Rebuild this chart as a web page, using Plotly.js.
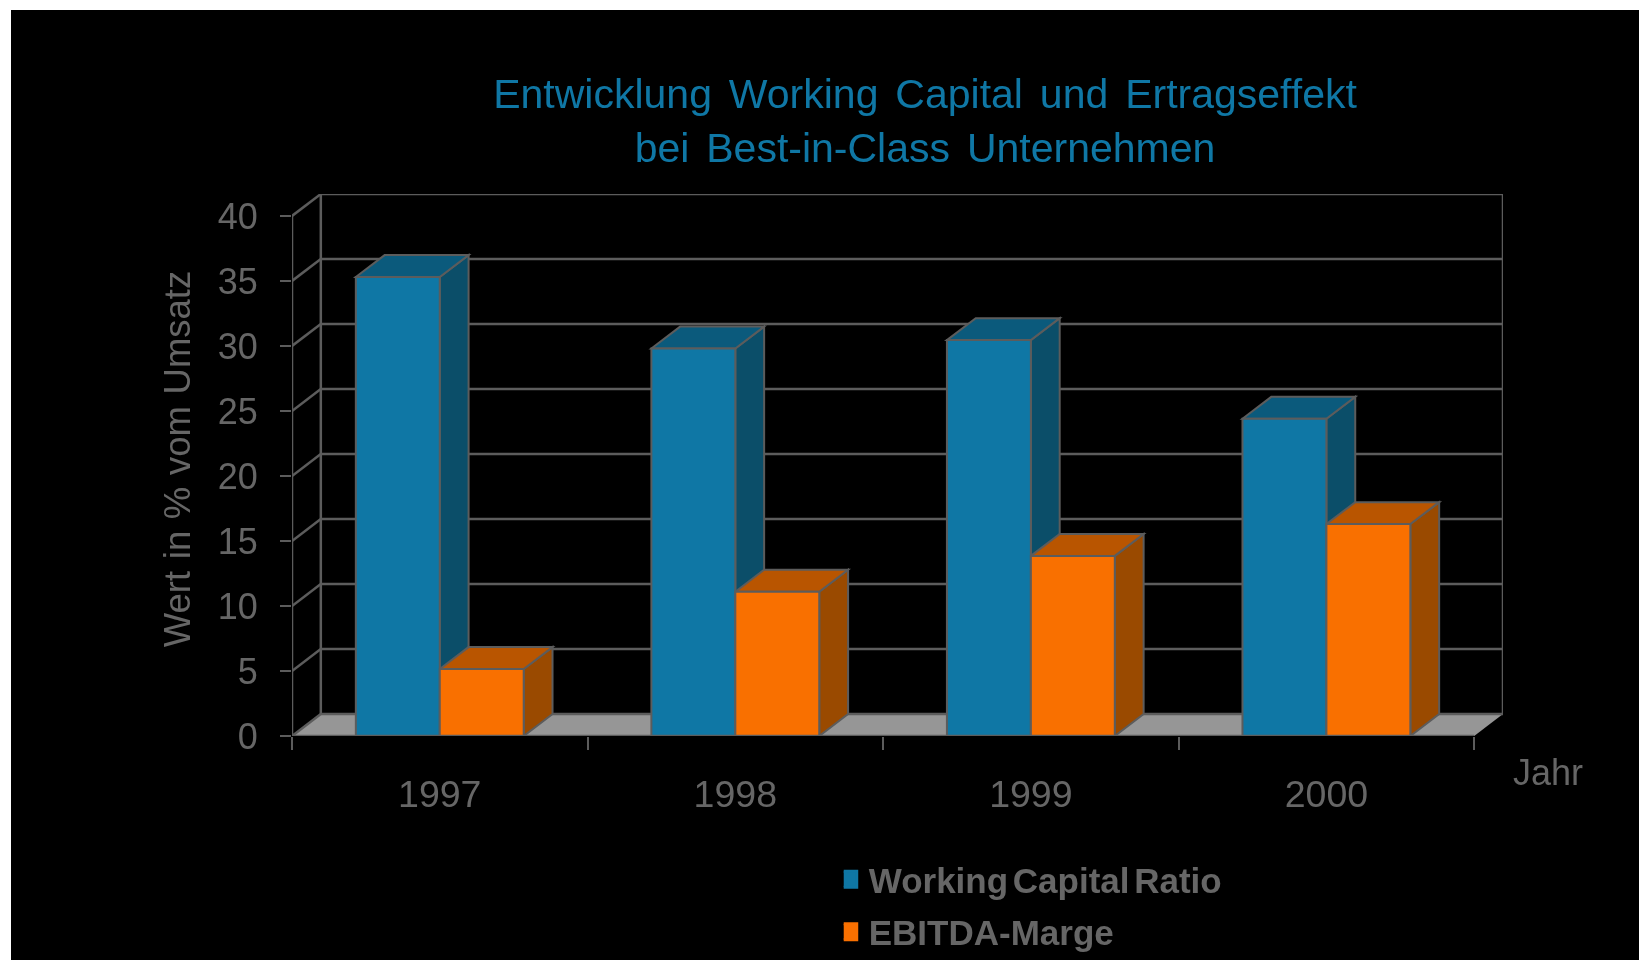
<!DOCTYPE html>
<html>
<head>
<meta charset="utf-8">
<script src="https://cdn.plot.ly/plotly-3.0.1.min.js"></script>
<style>
html,body{margin:0;padding:0;background:#fff;width:1639px;height:960px;overflow:hidden}
#chart{position:absolute;left:11px;top:10px;width:1628px;height:950px;filter:blur(0.7px)}
#chart .gtitle{word-spacing:5.5px}
#chart .legendtext{word-spacing:-5px}
#chart .ytitle{word-spacing:1.5px}
#chart .g-ytitle{transform:translateY(-6px)}
</style>
</head>
<body>
<div id="chart"></div>
<script>
var years = [1997, 1998, 1999, 2000];
var workingCapital = [35.3, 29.8, 30.45, 24.4];
var ebitda = [5.15, 11.1, 13.85, 16.3];
var yTicks = [0, 5, 10, 15, 20, 25, 30, 35, 40];
var seriesNames = ['Working Capital Ratio', 'EBITDA-Marge'];
var titleText = 'Entwicklung Working Capital und Ertragseffekt<br>bei Best-in-Class Unternehmen';
var yTitle = 'Wert in % vom Umsatz';
var xTitle = 'Jahr';

var depthX = 0.0975, depthY = 1.686, barW = 0.284;
var xMin = 1996.5, xMax = 2000.5, yMax = 40;
var lineCol = '#5c5c5c', textCol = '#666666', font = 'Liberation Sans, Arial, sans-serif';
var blue = {front:'#0f77a5', top:'#0b5a7c', side:'#0b4e69'};
var orange = {front:'#f97000', top:'#b95500', side:'#9a4a00'};

function poly(pts, fill, w, col, layer) {
  return {type:'path', xref:'x', yref:'y', layer:layer || 'below',
    path:'M ' + pts.map(function(p){return p[0] + ',' + p[1];}).join(' L ') + ' Z',
    fillcolor:fill, line:{color:col || lineCol, width:w === undefined ? 2 : w}};
}
function seg(x0, y0, x1, y1, layer) {
  return {type:'line', xref:'x', yref:'y', layer:layer || 'below', x0:x0, y0:y0, x1:x1, y1:y1,
    line:{color:lineCol, width:2.5}};
}
var shapes = [];
// floor
shapes.push(poly([[xMin,0],[xMin+depthX,depthY],[xMax+depthX,depthY],[xMax,0]], '#969696', 0, '#969696'));
// walls
yTicks.forEach(function(v){
  shapes.push(seg(xMin+depthX, v+depthY, xMax+depthX, v+depthY));
  shapes.push(seg(xMin, v, xMin+depthX, v+depthY));
});
shapes.push(seg(xMin+depthX, depthY, xMin+depthX, yMax+depthY));
shapes.push(seg(xMax+depthX, depthY, xMax+depthX, yMax+depthY));
// 3D faces
function faces(vals, x0off, x1off, c) {
  years.forEach(function(yr, i){
    var a = yr + x0off, b = yr + x1off, v = vals[i];
    shapes.push(poly([[b,0],[b+depthX,depthY],[b+depthX,v+depthY],[b,v]], c.side));
    shapes.push(poly([[a,v],[a+depthX,v+depthY],[b+depthX,v+depthY],[b,v]], c.top));
  });
}
faces(workingCapital, -barW, 0, blue);
faces(ebitda, 0, barW, orange);
// front axis lines
shapes.push(seg(xMin, 0, xMin, yMax, 'above'));
shapes.push(seg(xMin, 0, xMax, 0, 'above'));

var traces = [
  {type:'bar', x:years, y:workingCapital, name:seriesNames[0], showlegend:false, hoverinfo:'x+y',
   marker:{color:blue.front, line:{color:lineCol, width:2}}},
  {type:'bar', x:years, y:ebitda, name:seriesNames[1], showlegend:false, hoverinfo:'x+y',
   marker:{color:orange.front, line:{color:lineCol, width:2}}},
  {type:'scatter', mode:'markers', x:[null], y:[null], name:seriesNames[0], legendgroup:'a',
   marker:{symbol:'square', size:16, color:blue.front, line:{color:blue.front, width:3}}},
  {type:'scatter', mode:'markers', x:[null], y:[null], name:seriesNames[1], legendgroup:'b',
   marker:{symbol:'square', size:16, color:orange.front, line:{color:orange.front, width:3}}}
];

var layout = {
  width:1628, height:950,
  paper_bgcolor:'#000', plot_bgcolor:'rgba(0,0,0,0)',
  margin:{l:281, r:136, t:183.5, b:223.5, pad:0, autoexpand:false},
  font:{family:font, color:textCol, size:36},
  title:{text:titleText, font:{family:font, size:41, color:'#0f77a5'},
         x:914/1628, xanchor:'center', y:0.8964, yanchor:'top'},
  barmode:'group', bargap:0.432, bargroupgap:0,
  showlegend:true,
  legend:{x:0.4556, xanchor:'left', y:-0.415, yanchor:'bottom', orientation:'v', bgcolor:'rgba(0,0,0,0)',
          font:{family:font, size:35, color:textCol, weight:700}, tracegroupgap:4, indentation:-15, traceorder:'grouped'},
  xaxis:{type:'linear', range:[xMin, xMax+depthX], tickmode:'array', tickvals:years, ticktext:years.map(String),
         ticks:'outside', ticklen:0, tickfont:{family:font, size:37.5, color:textCol}, ticklabelstandoff:25,
         showgrid:false, zeroline:false, showline:false, fixedrange:true,
         minor:{tickmode:'array', tickvals:[1996.5,1997.5,1998.5,1999.5,2000.5], ticks:'outside', ticklen:13, tickwidth:1.5, tickcolor:lineCol, showgrid:false}},
  yaxis:{type:'linear', range:[0, yMax+depthY], tickmode:'array', tickvals:yTicks, automargin:true,
         ticks:'outside', ticklen:11, tickwidth:2, tickcolor:lineCol,
         tickfont:{family:font, size:36, color:textCol}, ticklabelstandoff:15,
         showgrid:false, zeroline:false, showline:false, fixedrange:true,
         title:{text:yTitle, font:{family:font, size:36.5, color:textCol}, standoff:15}},
  shapes:shapes,
  annotations:[{text:xTitle, xref:'paper', yref:'paper', x:(1548-11-281)/1211, y:(960-773-223.5)/543,
    xanchor:'center', yanchor:'middle', showarrow:false, font:{family:font, size:36, color:textCol}}]
};
Plotly.newPlot('chart', traces, layout, {displayModeBar:false, responsive:false});
</script>
</body>
</html>
